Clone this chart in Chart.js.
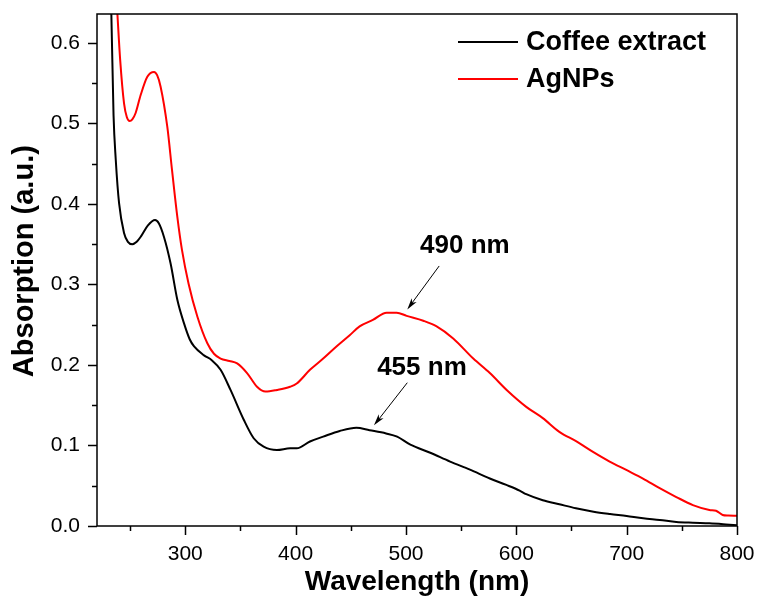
<!DOCTYPE html>
<html>
<head>
<meta charset="utf-8">
<script src="https://cdn.jsdelivr.net/npm/chart.js@4/dist/chart.umd.min.js"></script>
<style>
html,body{margin:0;padding:0;background:#fff;}
canvas{display:block;}
</style>
</head>
<body>
<canvas id="c" width="757" height="605"></canvas>
<script>
// ---- data ----
const coffeeWavelength = [226,230,233,235,237,240,244.5,248,252,256,260,266,272.6,276,280.7,286.7,292.8,298.8,304,308,317,324,332,341,353,362,371,383,395,401,413,425,440,455,467,482,492,504,522,540,558,576,591,603,609,624,639,654,670,685,700,715,730,745,760,775,790,800];
const coffeeAbs = [0.85,0.75,0.636,0.51,0.455,0.401,0.364,0.353,0.350,0.353,0.360,0.373,0.380,0.376,0.359,0.326,0.281,0.252,0.232,0.223,0.212,0.206,0.194,0.169,0.132,0.109,0.0985,0.0944,0.0965,0.0965,0.105,0.111,0.118,0.122,0.119,0.115,0.111,0.101,0.091,0.080,0.070,0.059,0.051,0.044,0.0395,0.032,0.027,0.022,0.0178,0.0149,0.0124,0.0095,0.0075,0.005,0.004,0.0033,0.002,0.001];

const agWavelength = [233,235,238.5,241,244.5,247,249.6,252,255,259.5,265.6,271.7,274.5,277.6,283.7,288,292.8,297,303,311,320,326,332,340,347,356,365,372.7,383,395,401,413,425,437,449,458,470,482.5,491.6,500.6,515.7,527.8,542.8,561,576,592,609,624,639,654.5,669.5,684.6,699.7,714.8,729.9,745,760,775,781,787,792,800];
const agAbs = [0.82,0.72,0.636,0.579,0.525,0.508,0.503,0.505,0.513,0.535,0.558,0.564,0.560,0.546,0.496,0.442,0.384,0.343,0.301,0.260,0.227,0.214,0.208,0.205,0.202,0.190,0.173,0.167,0.169,0.173,0.177,0.194,0.208,0.223,0.237,0.248,0.256,0.265,0.265,0.261,0.255,0.248,0.233,0.208,0.190,0.168,0.148,0.134,0.117,0.105,0.092,0.080,0.0696,0.059,0.047,0.036,0.026,0.020,0.019,0.0137,0.013,0.0128];

const seriesLabels = ["Coffee extract", "AgNPs"];
const xTickValues = [300,400,500,600,700,800];
const xMinorValues = [250,350,450,550,650,750];
const yTickValues = [0.0,0.1,0.2,0.3,0.4,0.5,0.6];
const yMinorValues = [0.05,0.15,0.25,0.35,0.45,0.55];
const xTitle = "Wavelength (nm)";
const yTitle = "Absorption (a.u.)";
// peak annotations in data units
const peakLabels = ["490 nm", "455 nm"];
const peakText = [[553.4,0.348],[514.5,0.196]];
const peakArrowFrom = [[530.1,0.323],[501.2,0.178]];
const peakArrowTo = [[501.2,0.269],[471,0.125]];

const toPts = (xs, ys) => xs.map((x,i)=>({x:x, y:ys[i]}));

const TXT = '"Liberation Sans", Arial, sans-serif';

const decor = {
  id: 'decor',
  afterDraw(chart) {
    const ctx = chart.ctx;
    const a = chart.chartArea;
    const xs = chart.scales.x, ys = chart.scales.y;
    ctx.save();
    ctx.strokeStyle = '#000';
    ctx.lineWidth = 1.5;
    ctx.strokeRect(a.left, a.top, a.right - a.left, a.bottom - a.top);
    // ticks
    ctx.beginPath();
    xTickValues.forEach(v => { const p = Math.round(xs.getPixelForValue(v)) + 0.5; ctx.moveTo(p, a.bottom); ctx.lineTo(p, a.bottom + 9); });
    xMinorValues.forEach(v => { const p = Math.round(xs.getPixelForValue(v)) + 0.5; ctx.moveTo(p, a.bottom); ctx.lineTo(p, a.bottom + 5); });
    yTickValues.forEach(v => { const p = Math.round(ys.getPixelForValue(v)) + 0.5; ctx.moveTo(a.left, p); ctx.lineTo(a.left - 9, p); });
    yMinorValues.forEach(v => { const p = Math.round(ys.getPixelForValue(v)) + 0.5; ctx.moveTo(a.left, p); ctx.lineTo(a.left - 5, p); });
    ctx.stroke();

    // axis titles
    ctx.fillStyle = '#000';
    ctx.font = 'bold 28px ' + TXT;
    ctx.textAlign = 'center';
    ctx.textBaseline = 'middle';
    ctx.fillText(xTitle, (a.left + a.right) / 2, 582);
    ctx.save();
    ctx.font = 'bold 29px ' + TXT;
    ctx.translate(25, ys.getPixelForValue(0.329));
    ctx.rotate(-Math.PI / 2);
    ctx.fillText(yTitle, 0, 0);
    ctx.restore();

    // legend
    ctx.font = 'bold 27px ' + TXT;
    ctx.textAlign = 'left';
    chart.data.datasets.forEach((ds, i) => {
      const y = a.top + 28 + i * 37;
      ctx.strokeStyle = ds.borderColor;
      ctx.lineWidth = 2;
      ctx.beginPath();
      ctx.moveTo(a.right - 279, y);
      ctx.lineTo(a.right - 219, y);
      ctx.stroke();
      ctx.fillStyle = '#000';
      ctx.fillText(ds.label, a.right - 211, y + 1);
    });

    // peak annotations
    ctx.font = 'bold 26px ' + TXT;
    ctx.textAlign = 'center';
    ctx.strokeStyle = '#000';
    ctx.fillStyle = '#000';
    ctx.lineWidth = 1;
    peakLabels.forEach((lab, i) => {
      ctx.fillText(lab, xs.getPixelForValue(peakText[i][0]), ys.getPixelForValue(peakText[i][1]));
      const x1 = xs.getPixelForValue(peakArrowFrom[i][0]), y1 = ys.getPixelForValue(peakArrowFrom[i][1]);
      const x2 = xs.getPixelForValue(peakArrowTo[i][0]), y2 = ys.getPixelForValue(peakArrowTo[i][1]);
      const ang = Math.atan2(y2 - y1, x2 - x1);
      const hl = 12, hw = 0.26;
      ctx.beginPath();
      ctx.moveTo(x1, y1);
      ctx.lineTo(x2 - Math.cos(ang) * 6, y2 - Math.sin(ang) * 6);
      ctx.stroke();
      ctx.beginPath();
      ctx.moveTo(x2, y2);
      ctx.lineTo(x2 - hl * Math.cos(ang - hw), y2 - hl * Math.sin(ang - hw));
      ctx.lineTo(x2 - hl * 0.7 * Math.cos(ang), y2 - hl * 0.7 * Math.sin(ang));
      ctx.lineTo(x2 - hl * Math.cos(ang + hw), y2 - hl * Math.sin(ang + hw));
      ctx.closePath();
      ctx.fill();
    });
    ctx.restore();
  }
};

const zeroPad = s => { s.paddingLeft = 0; s.paddingRight = 0; s.paddingTop = 0; s.paddingBottom = 0; };

new Chart(document.getElementById('c'), {
  type: 'line',
  data: {
    datasets: [
      { label: seriesLabels[0], data: toPts(coffeeWavelength, coffeeAbs), borderColor: '#000000', borderWidth: 2, pointRadius: 0, cubicInterpolationMode: 'monotone', fill: false },
      { label: seriesLabels[1], data: toPts(agWavelength, agAbs), borderColor: '#ff0000', borderWidth: 2, pointRadius: 0, cubicInterpolationMode: 'monotone', fill: false }
    ]
  },
  options: {
    responsive: false,
    animation: false,
    events: [],
    layout: { padding: { left: 0, right: 20, top: 14, bottom: 0 } },
    plugins: { legend: { display: false }, tooltip: { enabled: false } },
    scales: {
      x: {
        type: 'linear', min: 220, max: 800,
        grid: { display: false, drawTicks: false },
        border: { display: false },
        afterBuildTicks: s => { s.ticks = xTickValues.map(v => ({ value: v })); },
        afterFit: s => { s.height = 79; zeroPad(s); },
        ticks: { color: '#000', padding: 16, maxRotation: 0, font: { family: TXT, size: 21 }, callback: v => String(v) }
      },
      y: {
        type: 'linear', min: 0, max: 0.636,
        grid: { display: false, drawTicks: false },
        border: { display: false },
        afterBuildTicks: s => { s.ticks = yTickValues.map(v => ({ value: v })); },
        afterFit: s => { s.width = 97; zeroPad(s); },
        ticks: { color: '#000', padding: 17, font: { family: TXT, size: 21 }, callback: v => Number(v).toFixed(1) }
      }
    }
  },
  plugins: [decor]
});
</script>
</body>
</html>
